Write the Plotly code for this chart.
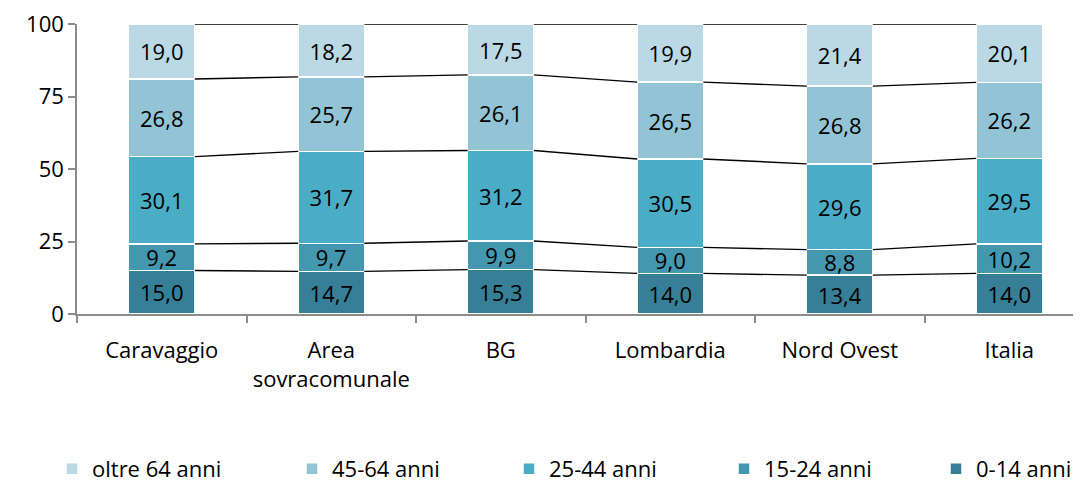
import plotly.graph_objects as go

categories = ["Caravaggio", "Area<br>sovracomunale", "BG", "Lombardia", "Nord Ovest", "Italia"]
series_names = ["0-14 anni", "15-24 anni", "25-44 anni", "45-64 anni", "oltre 64 anni"]
v_0_14 = [15.0, 14.7, 15.3, 14.0, 13.4, 14.0]
v_15_24 = [9.2, 9.7, 9.9, 9.0, 8.8, 10.2]
v_25_44 = [30.1, 31.7, 31.2, 30.5, 29.6, 29.5]
v_45_64 = [26.8, 25.7, 26.1, 26.5, 26.8, 26.2]
v_65 = [19.0, 18.2, 17.5, 19.9, 21.4, 20.1]
colors = ["#377f96", "#4398b0", "#4bacc6", "#93c4d5", "#bad9e4"]
y_ticks = [0, 25, 50, 75, 100]
# legend text start (page px) for each series, in the order above
legend_text_x = [977, 765, 550, 333, 93]

series = [v_0_14, v_15_24, v_25_44, v_45_64, v_65]
x = list(range(len(categories)))
bar_w = 0.39
FONT = "Open Sans"
FS = 22
W, H = 1081, 481
OFF = 8  # page body offset

fig = go.Figure()
legend_layout = {}
for k, (name, vals, col, lx) in enumerate(zip(series_names, series, colors, legend_text_x)):
    lname = "legend" if k == 0 else f"legend{k + 1}"
    fig.add_trace(go.Bar(
        x=x, y=vals, name=name, width=bar_w, legend=lname,
        marker=dict(color=col, line=dict(color="white", width=1.5)),
        texttemplate="%{y:.1f}", textposition="inside", insidetextanchor="middle",
        textfont=dict(size=FS, color="black", family=FONT),
        constraintext="none",
    ))
    legend_layout[lname] = dict(
        xref="container", yref="container",
        x=(lx - OFF - 41) / W, xanchor="left",
        y=(H - (469 - OFF)) / H, yanchor="middle",
        font=dict(size=FS, family=FONT, color="black"),
        bgcolor="rgba(0,0,0,0)", itemwidth=30,
    )

# series lines connecting segment tops
cum = []
run = [0.0] * len(categories)
for vals in series:
    run = [r + v for r, v in zip(run, vals)]
    cum.append(list(run))
cum[-1] = [100.0] * len(categories)
for level in cum:
    for i in range(len(categories) - 1):
        fig.add_trace(go.Scatter(
            x=[i + bar_w / 2, i + 1 - bar_w / 2], y=[level[i], level[i + 1]],
            mode="lines", line=dict(color="black", width=1.4),
            showlegend=False, hoverinfo="skip", cliponaxis=False,
        ))

fig.update_layout(
    barmode="stack",
    width=W, height=H,
    margin=dict(l=77 - OFF, r=OFF, t=24 - OFF, b=H - (314 - OFF), autoexpand=False),
    plot_bgcolor="white", paper_bgcolor="white",
    separators=",.",
    font=dict(family=FONT, size=FS, color="black"),
    uniformtext=dict(minsize=FS, mode="show"),
    showlegend=True,
    **legend_layout,
)
fig.update_xaxes(
    range=[-0.5, 5.423],
    tickmode="array", tickvals=x, ticktext=categories,
    ticks="", showgrid=False, zeroline=False,
    showline=True, linecolor="#8c8c8c", linewidth=1.5,
    ticklabelstandoff=16,
    minor=dict(tickmode="linear", tick0=0.5, dtick=1, ticks="outside", ticklen=7,
               tickcolor="#8c8c8c", tickwidth=1.5, showgrid=False),
    tickfont=dict(size=FS),
)
fig.update_yaxes(
    range=[0, 100.05], tickmode="array", tickvals=y_ticks,
    ticks="outside", ticklen=7, tickcolor="#8c8c8c", tickwidth=1.5,
    showgrid=False, zeroline=False,
    showline=True, linecolor="#8c8c8c", linewidth=1.5,
    tickfont=dict(size=FS), ticklabeloverflow="allow",
)
fig.write_html("out.html")
